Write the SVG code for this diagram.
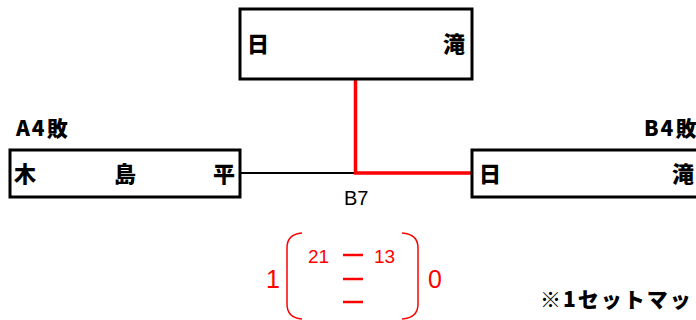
<svg xmlns="http://www.w3.org/2000/svg" width="696" height="320" viewBox="0 0 696 320">
<style>
.box{fill:#fff;stroke:#000;stroke-width:3}
.n{font-family:"Noto Sans CJK JP","Liberation Sans",sans-serif;font-weight:900;font-size:22px;fill:#000}
.h{font-family:"Noto Sans CJK JP","Liberation Sans",sans-serif;font-weight:900;font-size:21px;letter-spacing:2px;fill:#000}
.r{font-family:"Liberation Sans","Noto Sans CJK JP",sans-serif;font-size:25px;fill:#f00}
.rs{font-family:"Liberation Sans","Noto Sans CJK JP",sans-serif;font-size:19px;fill:#f00}
.d{stroke:#f00;stroke-width:2.5}
.br{fill:none;stroke:#f00;stroke-width:1.5}
</style>
<rect width="696" height="320" fill="#fff"/>
<g id="connectors">
<line x1="240" y1="173" x2="356" y2="173" stroke="#000" stroke-width="2"/>
<polyline points="355.5,79 355.5,173 472,173" fill="none" stroke="#f00" stroke-width="3.5"/>
</g>
<g id="top">
<rect class="box" x="240" y="9" width="232" height="70"/>
<text class="n" x="247" y="52">日</text>
<text class="n" x="443" y="52">滝</text>
</g>
<g id="left">
<text class="h" x="16" y="136">A4敗</text>
<rect class="box" x="10" y="150" width="230" height="47"/>
<text class="n" x="14" y="182">木</text>
<text class="n" x="114" y="182">島</text>
<text class="n" x="213" y="182">平</text>
</g>
<g id="right">
<text class="h" x="644" y="136">B4敗</text>
<rect class="box" x="472" y="150" width="240" height="47"/>
<text class="n" x="479" y="182">日</text>
<text class="n" x="672" y="182">滝</text>
</g>
<text x="344" y="205" font-family="Liberation Sans,sans-serif" font-size="20" fill="#000">B7</text>
<g id="score">
<text class="r" x="266" y="288">1</text>
<path class="br" d="M302,233 Q287,234 287,248 L287,304 Q287,318 302,319"/>
<path class="br" d="M402,233 Q418,234 418,248 L418,304 Q418,318 402,319"/>
<text class="rs" x="308" y="263">21</text>
<text class="rs" x="374" y="263">13</text>
<line class="d" x1="343" y1="255" x2="363" y2="255"/>
<line class="d" x1="343" y1="279" x2="363" y2="279"/>
<line class="d" x1="343" y1="302" x2="363" y2="302"/>
<text class="r" x="428" y="288">0</text>
</g>
<text class="n" x="540" y="307" style="font-size:21px;letter-spacing:2px">※1セットマッ</text>
</svg>
